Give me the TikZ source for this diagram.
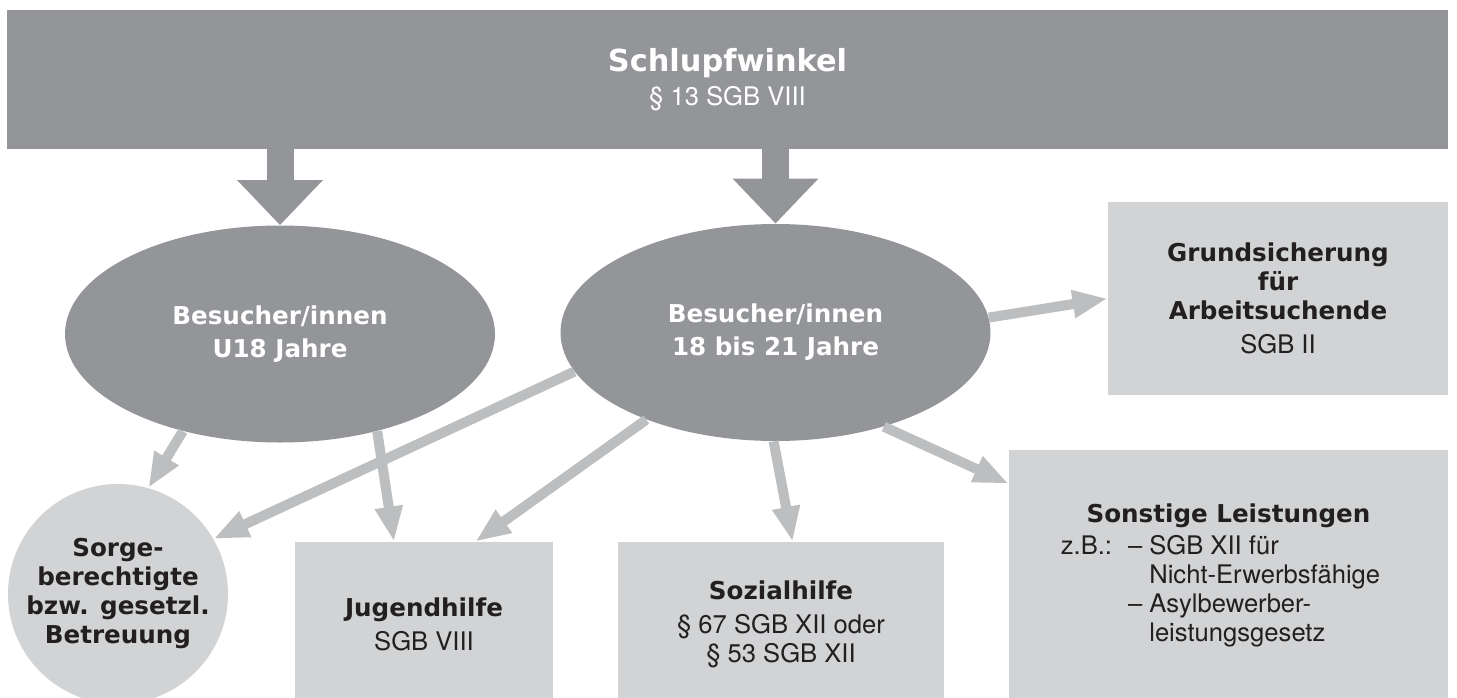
\documentclass[tikz,border=0pt]{standalone}
\usepackage{fontspec}
\setmainfont{TeX Gyre Heros}
\newfontfamily\heavyfont{DejaVu Sans}
\usepackage{xcolor}
\usetikzlibrary{arrows.meta, shapes.geometric}
\definecolor{darkgrey}{RGB}{147,149,152}
\definecolor{lightgrey}{RGB}{209,211,212}
\definecolor{arrowgrey}{RGB}{188,190,192}
\definecolor{inkblack}{RGB}{35,31,32}
\newcommand{\hv}{\heavyfont\bfseries\fontsize{12.3}{14.5}\selectfont}
\newcommand{\rg}{\normalfont\fontsize{12.8}{14.5}\selectfont}
\tikzset{banner/.style={rectangle, fill=darkgrey, text=white, inner sep=0pt, minimum width=720.5pt, minimum height=69.5pt, align=center},
visitor/.style={ellipse, fill=darkgrey, text=white, inner sep=0pt, minimum width=215pt, minimum height=108.5pt, align=center, font=\heavyfont\bfseries\fontsize{12.3}{16.5}\selectfont},
service/.style={rectangle, fill=lightgrey, text=inkblack, inner sep=0pt, align=center, font=\rg},
guardian/.style={circle, fill=lightgrey, text=inkblack, inner sep=0pt, minimum size=110pt, align=center, font=\hv},
bigarrow/.style={draw=darkgrey, line width=13.5pt, -{Triangle[width=41.5pt,length=22.5pt]}},
linkarrow/.style={draw=arrowgrey, line width=5pt, -{Triangle[width=13pt,length=17.5pt]}}}

\begin{document}
\begin{tikzpicture}[x=0.5pt,y=-0.5pt]
 \useasboundingbox (0,0) rectangle (1457,697);

 %Drawing top banner
 \node[banner] (schlupf) at (727.5,79.5) {{\hv\fontsize{15.2}{18}\selectfont Schlupfwinkel}\\[3.5pt]\rg \S\ 13 SGB VIII};

 %Drawing visitor groups
 \node[visitor] (u18) at (280,334) {Besucher/innen\\U18 Jahre};
 \node[visitor] (o18) at (775.5,332.5) {Besucher/innen\\18 bis 21 Jahre};

 \draw[bigarrow] (schlupf.south -| u18.north) -- (u18.north);
 \draw[bigarrow] (schlupf.south -| o18.north) -- (o18.north);

 %Drawing services
 \node[service, minimum width=170pt, minimum height=96.5pt] (grund) at (1278,298.5) {\hv Grundsicherung\\\hv für\\\hv Arbeitsuchende\\[2.5pt]\rg SGB II};
 \node[guardian] (sorge) at (118,594) {Sorge-\\berechtigte\\bzw. gesetzl.\\Betreuung};
 \node[service, minimum width=129pt, minimum height=82pt] (jugend) at (424,624) {\hv Jugendhilfe\\[2.5pt]\rg SGB VIII};
 \node[service, minimum width=163pt, minimum height=82pt] (sozial) at (781,624) {\hv Sozialhilfe\\[2.5pt]\rg \S\ 67 SGB XII oder\\\rg \S\ 53 SGB XII};
 \node[service, minimum width=219.5pt, minimum height=127pt] (sonst) at (1228.5,577) {\hv Sonstige Leistungen\\[2.5pt]\rg
  \begin{tabular}{@{}l@{\hspace{8pt}}l@{\hspace{3.5pt}}l@{}}
  z.B.: & -- & SGB XII für\\
   & & Nicht-Erwerbsfähige\\
   & -- & Asylbewerber-\\
   & & leistungsgesetz
  \end{tabular}\hspace*{8pt}};

 %Drawing links
 \draw[linkarrow] (u18.-135) -- (sorge.74);
 \draw[linkarrow] (u18.-45) -- (jugend.110);
 \draw[linkarrow] (o18.191) -- (sorge.30);
 \draw[linkarrow] (o18.214) -- (jugend.58);
 \draw[linkarrow] (o18.-91) -- (sozial.82);
 \draw[linkarrow] (o18.-41) -- (sonst.157);
 \draw[linkarrow] (o18.4) -- (grund.west);

\end{tikzpicture}
\end{document}
